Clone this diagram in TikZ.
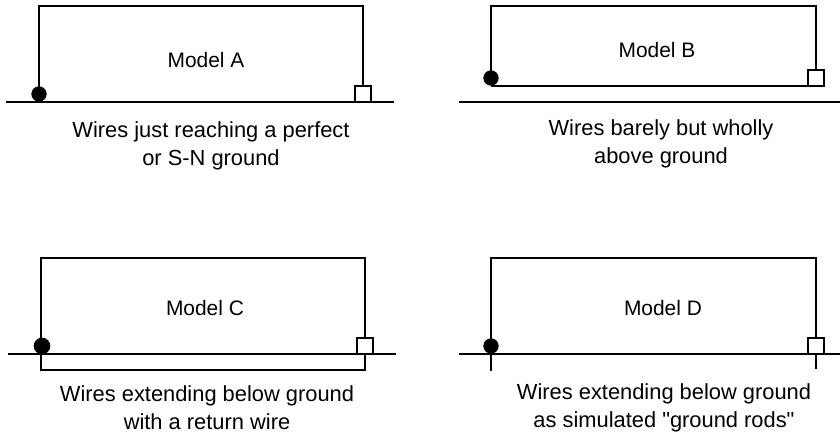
\documentclass[tikz,border=0pt]{standalone}
\usepackage{fontspec}
\newfontfamily\labfont{Liberation Sans}
\tikzset{
  wire/.style={draw=black,line width=1.1pt,line join=miter},
  dotnode/.style={circle,fill=black,draw=none,minimum size=11.5pt,inner sep=0pt},
  boxnode/.style={rectangle,draw=black,fill=white,line width=1pt,minimum size=12pt,inner sep=0pt},
  lab/.style={font=\labfont\fontsize{15.7}{21}\selectfont,text=black,align=center,inner sep=0pt},
  capt/.style={font=\labfont\fontsize{16.4}{21}\selectfont,text=black,align=center,inner sep=0pt},
}
\begin{document}
\begin{tikzpicture}[x=0.75pt,y=-0.75pt]
\useasboundingbox (0,0) rectangle (840,436);
% Model A
\coordinate (ga1) at (6,102); \coordinate (ga2) at (394,102);
\coordinate (ta1) at (39,6); \coordinate (ta2) at (363,6);
\draw[wire] (ga1) -- (ga2);
\node[dotnode] (da) at (39,94) {};
\node[boxnode] (sa) at (363,94) {};
\draw[wire] (da.center) -- (ta1) -- (ta2) -- (sa.north);
\node[lab] (la) at (206,60) {Model A};
\node[capt] (ca) at (211,146) {Wires just reaching a perfect\\or S-N ground};
% Model B
\coordinate (gb1) at (459,102); \coordinate (gb2) at (840,102);
\coordinate (tb1) at (491,6); \coordinate (tb2) at (816,6);
\coordinate (bb1) at (491,86);
\draw[wire] (gb1) -- (gb2);
\node[dotnode] (db) at (491,78) {};
\node[boxnode] (sb) at (816,78) {};
\draw[wire] (db.center) -- (tb1) -- (tb2) -- (sb.north);
\draw[wire] (bb1) -- (bb1 -| sb.south);
\node[lab] (lb) at (657,50) {Model B};
\node[capt] (cb) at (661,144) {Wires barely but wholly\\above ground};
% Model C
\coordinate (gc1) at (8,354); \coordinate (gc2) at (396,354);
\coordinate (tc1) at (41,258); \coordinate (tc2) at (365,258);
\coordinate (uc1) at (41,370); \coordinate (uc2) at (365,370);
\draw[wire] (gc1) -- (gc2);
\node[dotnode,minimum size=12.5pt] (dc) at (42,346) {};
\node[boxnode] (sc) at (365,346) {};
\draw[wire] (tc1 |- dc.center) -- (tc1) -- (tc2) -- (sc.north);
\draw[wire] (uc1 |- dc.center) -- (uc1) -- (uc2) -- (sc.south);
\node[lab] (lc) at (205,308) {Model C};
\node[capt] (cc) at (207,408) {Wires extending below ground\\with a return wire};
% Model D
\coordinate (gd1) at (459,354); \coordinate (gd2) at (840,354);
\coordinate (td1) at (491,258); \coordinate (td2) at (816,258);
\coordinate (rd1) at (491,371); \coordinate (rd2) at (816,369);
\draw[wire] (gd1) -- (gd2);
\node[dotnode] (dd) at (491,346) {};
\node[boxnode] (sd) at (816,346) {};
\draw[wire] (dd.center) -- (td1) -- (td2) -- (sd.north);
\draw[wire] (dd.center) -- (rd1);
\draw[wire] (sd.south) -- (rd2);
\node[lab] (ld) at (663,308) {Model D};
\node[capt] (cd) at (664,408) {Wires extending below ground\\as simulated "ground rods"};
\end{tikzpicture}
\end{document}
